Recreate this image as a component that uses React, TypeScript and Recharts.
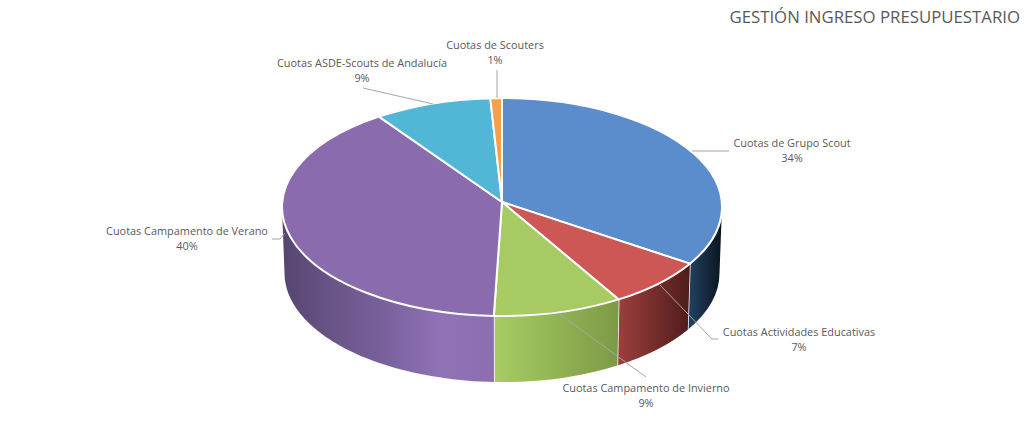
import React from 'react';
import { PieChart, Pie, Cell } from 'recharts';

const titleText = 'GESTIÓN INGRESO PRESUPUESTARIO';
const sliceNames = [
  'Cuotas de Grupo Scout',
  'Cuotas Actividades Educativas',
  'Cuotas Campamento de Invierno',
  'Cuotas Campamento de Verano',
  'Cuotas ASDE-Scouts de Andalucía',
  'Cuotas de Scouters',
];
const sliceValues = [33.7, 7.4, 9.49, 39.96, 8.6, 0.85];

const topColors = ['#5b8ccb', '#cd5755', '#a7ca63', '#8a6cae', '#52b6d6', '#f7a04a'];
const wallStops: string[][] = [
  ['#21405f', '#0a141f'],
  ['#9c3f3d', '#4e1c1c'],
  ['#a9cc64', '#7c9a45'],
  ['#55456f', '#6a5588', '#7b629f', '#8f72b6', '#8c6eb1'],
  ['#52b6d6', '#3f8ea8'],
  ['#f7a04a', '#c07a30'],
];
// label centre x, first line y, leader polyline
const labelLayout: { x: number; y: number; line: string }[] = [
  { x: 792, y: 147, line: '692,151 729,151' },
  { x: 799, y: 336, line: '660,285 712,339 718,339' },
  { x: 646, y: 392, line: '558,313 646,377' },
  { x: 187, y: 235, line: '272,239 280,239 285,233' },
  { x: 362, y: 67, line: '363,88 433,104' },
  { x: 495, y: 49, line: '497,70 497,98' },
];

const chartData = sliceNames.map((name, i) => ({ name, value: sliceValues[i] }));

const RX = 220;
const RY = 109;
const APEX_DY = -5;
const WALL_DY = 66;
const WALL_RX = 217.5;
const FONT = '"Open Sans", sans-serif';
const rad = (d: number) => (d * Math.PI) / 180;

function Slice(props: any) {
  const { cx, cy, startAngle, endAngle, index } = props;
  const top = (a: number) => [cx + RX * Math.cos(rad(a)), cy - RY * Math.sin(rad(a))];
  const bottom = (a: number) => [cx + WALL_RX * Math.cos(rad(a)), cy + WALL_DY - RY * Math.sin(rad(a))];
  const hi = Math.max(startAngle, endAngle);
  const lo = Math.min(startAngle, endAngle);
  const [sx, sy] = top(startAngle);
  const [ex, ey] = top(endAngle);
  const large = hi - lo > 180 ? 1 : 0;
  const topPath = `M${cx},${cy + APEX_DY} L${sx},${sy} A${RX},${RY} 0 ${large} 1 ${ex},${ey} Z`;

  // visible wall: the part of the rim on the lower half, angles normalised to [-270, 90]
  const wallHi = Math.min(hi, 0);
  const wallLo = Math.max(lo, -180);
  let wall: React.ReactNode = null;
  if (wallHi > wallLo) {
    const [ax, ay] = top(wallHi);
    const [bx, by] = top(wallLo);
    const [cx2, cy2] = bottom(wallLo);
    const [dx, dy] = bottom(wallHi);
    const id = `wall-${index}`;
    const stops = wallStops[index];
    const x1 = Math.min(ax, bx);
    const x2 = Math.max(ax, bx);
    wall = (
      <g>
        <defs>
          <linearGradient id={id} gradientUnits="userSpaceOnUse" x1={x1} x2={x2} y1={0} y2={0}>
            {stops.map((c, i) => (
              <stop key={i} offset={i / (stops.length - 1)} stopColor={c} />
            ))}
          </linearGradient>
        </defs>
        <path
          d={`M${ax},${ay} A${RX},${RY} 0 0 1 ${bx},${by} L${cx2},${cy2} A${WALL_RX},${RY} 0 0 0 ${dx},${dy} Z`}
          fill={`url(#${id})`}
        />
        {wallLo > -180 && (
          <line x1={bx} y1={by} x2={cx2} y2={cy2} stroke="#ffffff" strokeWidth={1.5} />
        )}
      </g>
    );
  }
  return (
    <g>
      {wall}
      <path d={topPath} fill={topColors[index]} stroke="#ffffff" strokeWidth={2} strokeLinejoin="round" />
    </g>
  );
}

function SliceLabel(props: any) {
  const { index, name, percent } = props;
  const l = labelLayout[index];
  return (
    <g>
      <polyline points={l.line} fill="none" stroke="#a6a6a6" strokeWidth={1} />
      <text x={l.x} y={l.y} textAnchor="middle" fontFamily={FONT} fontSize={10.9} fill="#595959">
        {name}
      </text>
      <text x={l.x} y={l.y + 15} textAnchor="middle" fontFamily={FONT} fontSize={10.9} fill="#595959">
        {Math.round(percent * 100)}%
      </text>
    </g>
  );
}

export default function App() {
  return (
    <div style={{ position: 'absolute', left: 0, top: 0, width: 1024, height: 437, background: '#fff' }}>
      <PieChart width={1024} height={437} margin={{ top: 0, right: 0, bottom: 0, left: 0 }}>
        <Pie
          data={chartData}
          dataKey="value"
          nameKey="name"
          cx={502}
          cy={207}
          outerRadius={220}
          startAngle={90}
          endAngle={-270}
          paddingAngle={0}
          stroke="none"
          isAnimationActive={false}
          shape={Slice}
          label={SliceLabel}
          labelLine={false}
        >
          {chartData.map((d, i) => (
            <Cell key={d.name} fill={topColors[i]} />
          ))}
        </Pie>
      </PieChart>
      <div
        style={{
          position: 'absolute',
          right: 4,
          top: 5,
          fontFamily: '"Open Sans", sans-serif',
          fontSize: 16.8,
          color: '#595959',
          whiteSpace: 'nowrap',
        }}
      >
        {titleText}
      </div>
    </div>
  );
}
